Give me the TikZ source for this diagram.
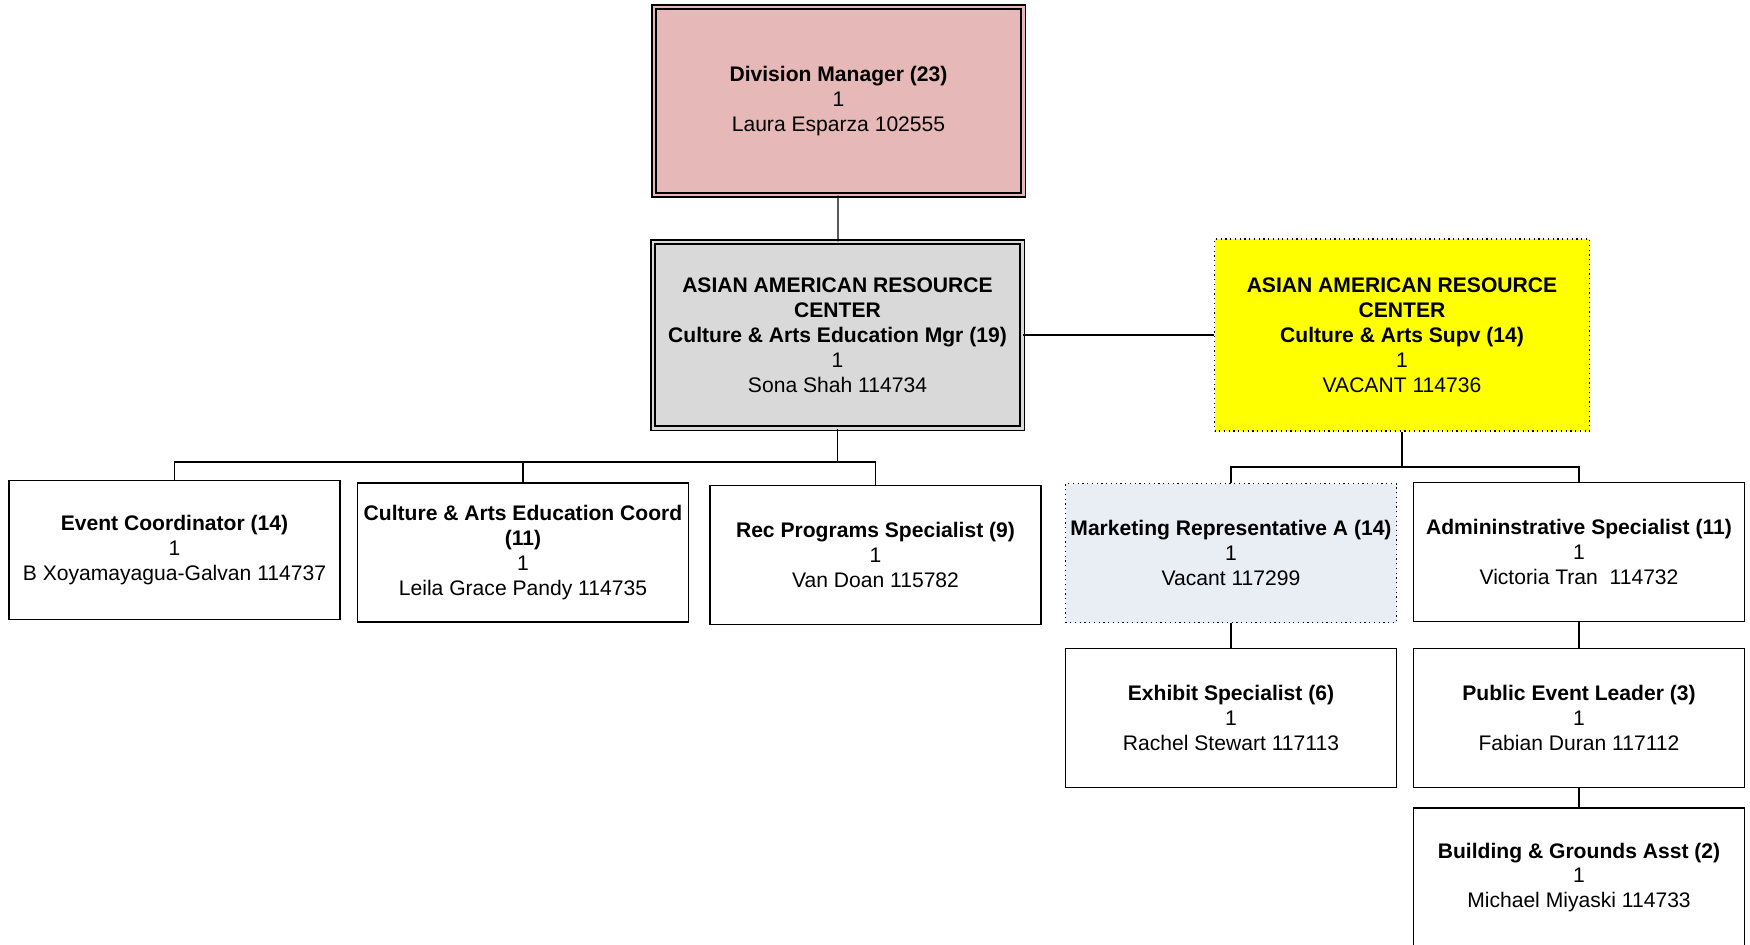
\documentclass[tikz,border=0pt]{standalone}
\usepackage{fontspec}
\setmainfont{Liberation Sans}
\usepackage{xcolor}
\usetikzlibrary{positioning, calc}

\definecolor{dmpink}{RGB}{230,184,183}
\definecolor{mgrgray}{RGB}{217,217,217}
\definecolor{supvyellow}{RGB}{255,255,0}
\definecolor{mktblue}{RGB}{233,237,244}

\begin{document}
\begin{tikzpicture}[
    posbox/.style={draw, line width=0.8pt, minimum width=6.62cm,
                   minimum height=2.78cm, align=center, inner sep=2pt,
                   font=\fontsize{12}{14.2}\selectfont},
    headbox/.style={posbox, minimum width=7.38cm, minimum height=3.72cm,
                    line width=0.8pt, double distance=1.7pt},
    vacant/.style={posbox, line width=0.7pt, dash pattern=on 0.7pt off 2pt},
    link/.style={line width=0.7pt},
]
\useasboundingbox (0,0) rectangle (35,-18.9);

\node[headbox, fill=dmpink, double=dmpink, minimum height=3.76cm] (dm) at (16.77, -2.02)
    {\textbf{Division Manager (23)}\\1\\Laura Esparza 102555};
\node[headbox, fill=mgrgray, double=mgrgray] (mgr) at (16.75, -6.70)
    {\textbf{ASIAN AMERICAN RESOURCE}\\\textbf{CENTER}\\\textbf{Culture \& Arts Education Mgr (19)}\\1\\Sona Shah 114734};
\node[vacant, fill=supvyellow, minimum width=7.5cm, minimum height=3.84cm] (supv) at (28.04, -6.70)
    {\textbf{ASIAN AMERICAN RESOURCE}\\\textbf{CENTER}\\\textbf{Culture \& Arts Supv (14)}\\1\\VACANT 114736};

% Mgr staff
\node[posbox] (evt) at (3.49, -11.00)
    {\textbf{Event Coordinator (14)}\\1\\B Xoyamayagua-Galvan 114737};
\node[posbox] (coord) at (10.46, -11.05)
    {\textbf{Culture \& Arts Education Coord}\\\textbf{(11)}\\1\\Leila Grace Pandy 114735};
\node[posbox] (rec) at (17.51, -11.10)
    {\textbf{Rec Programs Specialist (9)}\\1\\Van Doan 115782};

% Supv staff
\node[vacant, fill=mktblue] (mkt) at (24.62, -11.06)
    {\textbf{Marketing Representative A (14)}\\1\\Vacant 117299};
\node[posbox] (adm) at (31.58, -11.04)
    {\textbf{Admininstrative Specialist (11)}\\1\\Victoria Tran~~114732};
\node[posbox] (exh) at (24.62, -14.36)
    {\textbf{Exhibit Specialist (6)}\\1\\Rachel Stewart 117113};
\node[posbox] (pel) at (31.58, -14.36)
    {\textbf{Public Event Leader (3)}\\1\\Fabian Duran 117112};
\node[posbox] (bga) at (31.58, -17.55)
    {\textbf{Building \& Grounds Asst (2)}\\1\\Michael Miyaski 114733};

\coordinate (mgrbus) at (16.75, -9.24);
\coordinate (supvbus) at (28.04, -9.34);

\draw[link] (dm) -- (mgr);
\draw[link] (mgr) -- (supv);
\draw[link] (mgr.south) -- (mgrbus);
\draw[link] (mgrbus) -| (evt.north);
\draw[link] (mgrbus) -| (coord.north);
\draw[link] (mgrbus) -| (rec.north);
\draw[link] (supv.south) -- (supvbus);
\draw[link] (supvbus) -| (mkt.north);
\draw[link] (supvbus) -| (adm.north);
\draw[link] (mkt) -- (exh);
\draw[link] (adm) -- (pel);
\draw[link] (pel) -- (bga);
\end{tikzpicture}
\end{document}
